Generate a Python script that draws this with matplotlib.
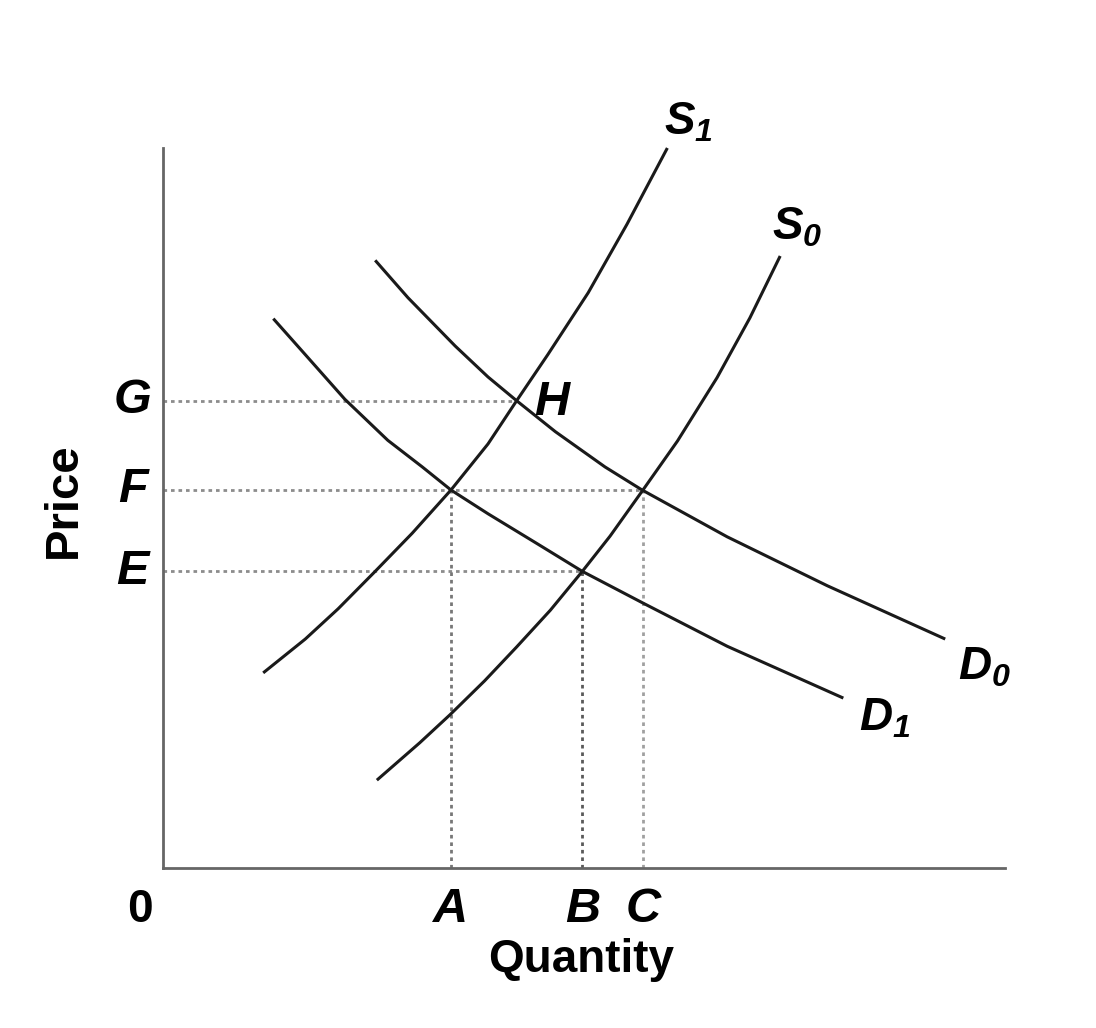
import matplotlib.pyplot as plt

plt.rcParams['font.family'] = ['Liberation Sans', 'DejaVu Sans']
plt.rcParams['mathtext.fontset'] = 'custom'
plt.rcParams['mathtext.it'] = 'Liberation Sans:italic:bold'
plt.rcParams['mathtext.rm'] = 'Liberation Sans:italic:bold'

W, H = 1096, 1028
fig = plt.figure(figsize=(W / 100, H / 100), dpi=100, facecolor='white')
ax = fig.add_axes([163 / W, (H - 868) / H, 842 / W, 720 / H])

# curves (quantity, price)
d0_q = [2.52, 2.91, 3.47, 3.86, 4.20, 4.66, 5.25, 5.69, 6.70, 7.89, 9.29]
d0_p = [8.44, 7.92, 7.25, 6.82, 6.49, 6.06, 5.57, 5.25, 4.60, 3.92, 3.18]

d1_q = [1.31, 1.69, 2.16, 2.67, 3.08, 3.42, 3.86, 4.45, 4.98, 5.70, 6.70, 8.08]
d1_p = [7.63, 7.13, 6.51, 5.94, 5.57, 5.25, 4.92, 4.50, 4.12, 3.68, 3.08, 2.36]

s1_q = [1.19, 1.69, 2.08, 2.52, 2.96, 3.42, 3.86, 4.20, 4.57, 5.05, 5.51, 5.99]
s1_p = [2.71, 3.18, 3.60, 4.12, 4.65, 5.25, 5.89, 6.49, 7.13, 7.99, 8.94, 10.0]

s0_q = [2.54, 3.05, 3.41, 3.82, 4.20, 4.60, 4.98, 5.31, 5.70, 6.11, 6.58, 6.97, 7.33]
s0_p = [1.22, 1.74, 2.13, 2.60, 3.07, 3.58, 4.12, 4.61, 5.25, 5.93, 6.81, 7.64, 8.50]

# price levels and quantities
price_labels = ['G', 'F', 'E']
price_levels = [6.49, 5.25, 4.12]
price_ends = [4.20, 5.70, 4.98]      # where each dotted line stops
qty_labels = ['A', 'B', 'C']
qty_levels = [3.42, 4.98, 5.70]
qty_tops = [5.25, 4.12, 5.25]

curve_kw = dict(color='#1a1a1a', linewidth=2.2, solid_capstyle='butt',
                solid_joinstyle='round', clip_on=False)
ax.plot(d0_q, d0_p, **curve_kw)
ax.plot(d1_q, d1_p, **curve_kw)
ax.plot(s1_q, s1_p, **curve_kw)
ax.plot(s0_q, s0_p, **curve_kw)

dot_kw = dict(linewidth=2.0, linestyle=(0, (1.3, 1.4)), zorder=1)
for lvl, end in zip(price_levels, price_ends):
    ax.plot([0, end], [lvl, lvl], color='#8c8c8c', **dot_kw)
for q, top, c in zip(qty_levels, qty_tops, ['#777777', '#5a5a5a', '#a0a0a0']):
    ax.plot([q, q], [0, top], color=c, **dot_kw)

ax.set_xlim(0, 10)
ax.set_ylim(0, 10)
ax.set_xticks([])
ax.set_yticks([])
ax.spines['top'].set_visible(False)
ax.spines['right'].set_visible(False)
ax.spines['left'].set_color('#666666')
ax.spines['bottom'].set_color('#666666')
ax.spines['left'].set_linewidth(2.0)
ax.spines['bottom'].set_linewidth(2.0)

lab = dict(fontsize=35, fontweight='bold', fontstyle='italic', ha='center', va='center',
           clip_on=False)
for name, lvl in zip(price_labels, price_levels):
    ax.text(-0.36, lvl, name, **lab)
for name, q in zip(qty_labels, qty_levels):
    ax.text(q, -0.58, name, **lab)
ax.text(4.62, 6.47, 'H', **lab)

ax.text(6.24, 10.36, r'$S_1$', fontsize=33, ha='center', va='center')
ax.text(7.53, 8.89, r'$S_0$', fontsize=33, ha='center', va='center')
ax.text(9.76, 2.78, r'$D_0$', fontsize=33, ha='center', va='center')
ax.text(8.57, 2.08, r'$D_1$', fontsize=33, ha='center', va='center')

ax.text(-0.27, -0.58, '0', fontsize=33, fontweight='bold', ha='center', va='center')
ax.text(4.96, -1.28, 'Quantity', fontsize=33, fontweight='bold', ha='center', va='center')
ax.text(-1.18, 5.11, 'Price', fontsize=34, fontweight='bold', ha='center', va='center',
        rotation=90)

fig.savefig('out.png', dpi=100, facecolor='white')
